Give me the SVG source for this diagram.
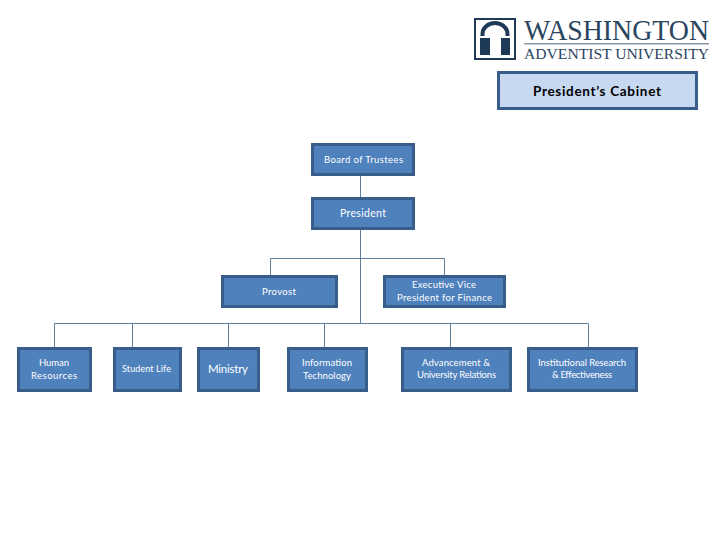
<svg xmlns="http://www.w3.org/2000/svg" width="720" height="540" viewBox="0 0 720 540">
<style>
.box{fill:#4f81bd;stroke:#385d8a;stroke-width:3}
.t{font-family:"Lato","Liberation Sans",Arial,sans-serif;fill:#fff;font-size:9.5px;text-anchor:middle}
.c{fill:none;stroke:#5f7f9c;stroke-width:1}
.logo{font-family:"Liberation Serif",serif;fill:#2a4560}
</style>
<rect width="720" height="540" fill="#fff"/>
<g id="logo">
<rect x="475" y="19" width="40" height="40" fill="#fff" stroke="#1f3a57" stroke-width="2"/>
<path d="M482.500 36V34A12.500 11 0 0 1 507.500 34V36" fill="none" stroke="#1f3a57" stroke-width="4"/>
<rect x="480" y="38" width="10" height="17" fill="#1f3a57"/>
<rect x="501" y="38" width="9" height="17" fill="#1f3a57"/>
<text class="logo" transform="translate(524 39.500) scale(1 1.100)" font-size="26" textLength="185" lengthAdjust="spacingAndGlyphs">WASHINGTON</text>
<rect x="524" y="43" width="185" height="1.500" fill="#8a97a5"/>
<text class="logo" x="524" y="58.500" font-size="14" textLength="185" lengthAdjust="spacingAndGlyphs">ADVENTIST UNIVERSITY</text>
</g>
<g id="connectors">
<path class="c" d="M360.500 176V197M360.500 230V323.500M270.500 275V258.500H444.500V275M54.500 347V323.500H588.500V347M132.500 323.500V347M228.500 323.500V347M324.500 323.500V347M450.500 323.500V347"/>
</g>
<g id="cabinet">
<rect x="498.500" y="72.500" width="198" height="36" fill="#c6d9f1" stroke="#385d8a" stroke-width="3"/>
<text x="597" y="96" font-family="Lato,'Liberation Sans',Arial,sans-serif" font-size="13.500" font-weight="bold" text-anchor="middle" fill="#000" textLength="128">President’s Cabinet</text>
</g>
<g id="board"><rect class="box" x="312.500" y="144.500" width="101" height="30"/><text class="t" x="363.500" y="163" textLength="79">Board of Trustees</text></g>
<g id="president"><rect class="box" x="312.500" y="198.500" width="101" height="30"/><text class="t" x="363" y="217" style="font-size:10.500px" textLength="46">President</text></g>
<g id="provost"><rect class="box" x="222.500" y="276.500" width="114" height="30"/><text class="t" x="279" y="295" textLength="34">Provost</text></g>
<g id="evp"><rect class="box" x="384.500" y="276.500" width="120" height="30"/><text class="t" x="444" y="288" textLength="64">Executive Vice</text><text class="t" x="444.500" y="301" textLength="95">President for Finance</text></g>
<g id="hr"><rect class="box" x="18.500" y="348.500" width="72" height="42"/><text class="t" x="54" y="366" textLength="30">Human</text><text class="t" x="54" y="379" textLength="46">Resources</text></g>
<g id="student"><rect class="box" x="114.500" y="348.500" width="66" height="42"/><text class="t" x="146.500" y="372" style="font-size:9px" textLength="49">Student Life</text></g>
<g id="ministry"><rect class="box" x="198.500" y="348.500" width="60" height="42"/><text class="t" x="228" y="373" style="font-size:11.500px" textLength="40">Ministry</text></g>
<g id="it"><rect class="box" x="288.500" y="348.500" width="78" height="42"/><text class="t" x="327" y="366" textLength="50">Information</text><text class="t" x="327" y="379" textLength="48">Technology</text></g>
<g id="advancement"><rect class="box" x="402.500" y="348.500" width="108" height="42"/><text class="t" x="456" y="366" textLength="68">Advancement &amp;</text><text class="t" x="456.500" y="378" textLength="79">University Relations</text></g>
<g id="research"><rect class="box" x="528.500" y="348.500" width="108" height="42"/><text class="t" x="582" y="366" textLength="88">Institutional Research</text><text class="t" x="582" y="378" textLength="60">&amp; Effectiveness</text></g>
</svg>
